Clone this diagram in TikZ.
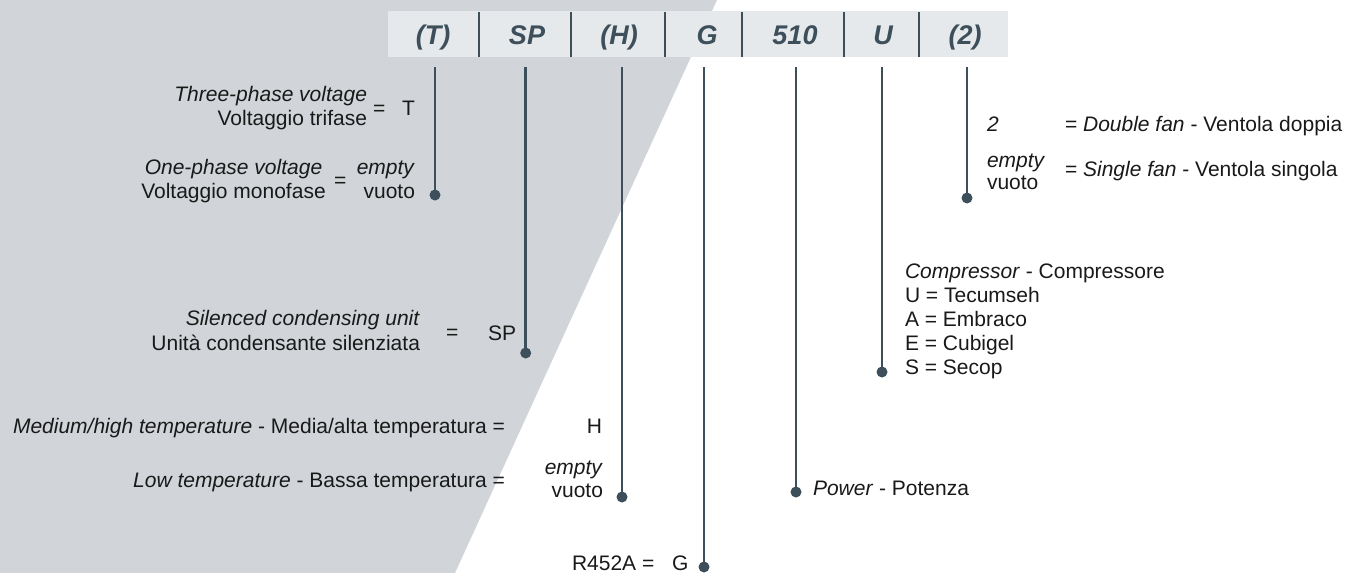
\documentclass[tikz,border=0pt]{standalone}
\usepackage{fontspec}
\setmainfont{Liberation Sans}
\usetikzlibrary{positioning}
\definecolor{slate}{HTML}{3D4F5A}
\definecolor{panel}{HTML}{D1D5D9}
\definecolor{barbg}{HTML}{E6E9EC}
\def\E#1{\textit{#1}}

\begin{document}
\begin{tikzpicture}[%
        x=1pt, y=-1pt,
        every node/.style={inner sep=0pt, outer sep=0pt, font=\fontsize{21}{23.5}\selectfont, text=black!90},
        code/.style={anchor=base, font=\fontsize{27}{30}\selectfont\bfseries\itshape, text=slate},
        dot/.style={circle, fill=slate, minimum size=11pt},
        lead/.style={draw=slate, line width=2.9pt},
        le/.style={anchor=base east},
        lw/.style={anchor=base west}
      ]
      \useasboundingbox (0,0) rectangle (1358,573);
      % grey panel and code bar
      \fill [panel] (0,0) -- (717,0) -- (455,573) -- (0,573) -- cycle;
      \fill [barbg] (388,11) rectangle (1008,57);
      \draw [slate, line width=2.9pt] (479,12) -- (479,57) (571,12) -- (571,57)
        (665,12) -- (665,57) (742,12) -- (742,57) (844,12) -- (844,57) (919,12) -- (919,57);
      \node [] (bt) [code] at (433,44) {(T)};
      \node [] (bsp) [code] at (527,44) {SP};
      \node [] (bh) [code] at (619,44) {(H)};
      \node [] (bg) [code] at (707,44) {G};
      \node [] (bp) [code] at (795,44) {510};
      \node [] (bu) [code] at (883,44) {U};
      \node [] (bf) [code] at (965,44) {(2)};
      % leads
      \coordinate (ct) at (435,67);
      \coordinate (csp) at (525.7,67);
      \coordinate (ch) at (622,67);
      \coordinate (cg) at (704,67);
      \coordinate (cp) at (796,67);
      \coordinate (cu) at (882,67);
      \coordinate (cf) at (967,67);
      \node [] (dt) [dot] at (435,195) {};
      \node [] (dsp) [dot] at (525.7,353) {};
      \node [] (dh) [dot] at (622,497) {};
      \node [] (dg) [dot] at (704,567) {};
      \node [] (dp) [dot] at (796,492) {};
      \node [] (du) [dot] at (882,372) {};
      \node [] (df) [dot] at (967,198) {};
      \path [lead] (ct) edge (dt)
      (csp) edge (dsp)
      (ch) edge (dh)
      (cg) edge (dg)
      (cp) edge (dp)
      (cu) edge (du)
      (cf) edge (df);
      % (T)
      \node [] (t1) [le] at (367,101.7) {\E{Three-phase voltage}};
      \node [] (t2) [le] at (367,125) {Voltaggio trifase};
      \node [] (teq) [lw] at (373,115) {=};
      \node [] (tv) [lw] at (402,115) {T};
      \node [] (o1) [anchor=base] at (233.5,174) {\E{One-phase voltage}};
      \node [] (o2) [anchor=base] at (233.5,198) {Voltaggio monofase};
      \node [] (oeq) [lw] at (334,187) {=};
      \node [] (ov1) [le] at (415,174) {\E{empty}};
      \node [] (ov2) [le] at (415,198) {vuoto};
      % SP
      \node [] (s1) [le] at (420,325) {\E{Silenced condensing unit}};
      \node [] (s2) [le] at (420,350) {Unità condensante silenziata};
      \node [] (seq) [lw] at (446,339) {=};
      \node [] (sv) [lw] at (488,340) {SP};
      % (H)
      \node [] (h1) [le] at (505,433) {\E{Medium/high temperature} - Media/alta temperatura =};
      \node [] (hv) [le] at (602,433) {H};
      \node [] (l1) [le] at (505,487) {\E{Low temperature} - Bassa temperatura =};
      \node [] (lv1) [le] at (603,474) {\E{empty}};
      \node [] (lv2) [le] at (603,497) {vuoto};
      % G
      \node [] (g1) [lw] at (572,570) {R452A =};
      \node [] (gv) [lw] at (672,570) {G};
      % 510
      \node [] (p1) [lw] at (813,495) {\E{Power} - Potenza};
      % U
      \node [] (u0) [lw] at (905,278) {\E{Compressor} - Compressore};
      \node [] (u1) [lw] at ([yshift=-24.2pt]u0.base west) {U = Tecumseh};
      \node [] (u2) [lw] at ([yshift=-24.2pt]u1.base west) {A = Embraco};
      \node [] (u3) [lw] at ([yshift=-24.2pt]u2.base west) {E = Cubigel};
      \node [] (u4) [lw] at ([yshift=-24.2pt]u3.base west) {S = Secop};
      % (2)
      \node [] (f1) [lw] at (987,131.7) {\E{2}};
      \node [] (f1t) [lw] at (1065,131.7) {= \E{Double fan} - Ventola doppia};
      \node [] (f2) [lw] at (987,167) {\E{empty}};
      \node [] (f3) [lw] at (987,189) {vuoto};
      \node [] (f2t) [lw] at (1065,176) {= \E{Single fan} - Ventola singola};
\end{tikzpicture}
\end{document}
